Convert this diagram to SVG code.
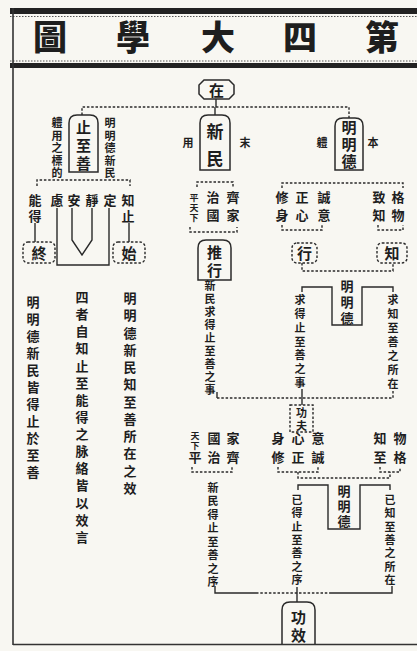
<svg xmlns="http://www.w3.org/2000/svg" width="417" height="651" viewBox="0 0 417 651">
<style>
text{font-family:"Noto Sans CJK TC","Noto Sans CJK SC",sans-serif;font-weight:bold;fill:#1e1e1e;text-anchor:middle}
.t{font-size:34px;font-weight:900}
.b{font-size:15px}
.m{font-size:13px}
.s{font-size:11px}
.xs{font-size:9px}
.ln{fill:none;stroke:#2a2a2a;stroke-width:1.4}
.d{fill:none;stroke:#2a2a2a;stroke-width:1.4;stroke-dasharray:2.5 1.8}
.bx{fill:none;stroke:#2a2a2a;stroke-width:1.5}
.bd{fill:none;stroke:#2a2a2a;stroke-width:1.4;stroke-dasharray:2.5 1.8}
</style>
<rect width="417" height="651" fill="#f8f7f2"/>
<g id="frame">
<rect x="10" y="8" width="407" height="6" fill="#222"/>
<line x1="10" y1="16.5" x2="417" y2="16.5" stroke="#555" stroke-width="1" stroke-dasharray="1.5 1.5"/>
<line x1="10" y1="61" x2="417" y2="61" stroke="#555" stroke-width="1" stroke-dasharray="1.5 1.5"/>
<rect x="10" y="63" width="407" height="5" fill="#222"/>
<line x1="13" y1="8" x2="13" y2="645" stroke="#333" stroke-width="1.6"/>
<line x1="13" y1="644.5" x2="417" y2="644.5" stroke="#333" stroke-width="1.6"/>
</g>
<g id="title">
<text class="t" x="50" y="50">圖</text>
<text class="t" x="133" y="50">學</text>
<text class="t" x="218" y="50">大</text>
<text class="t" x="300" y="50">四</text>
<text class="t" x="382" y="50">第</text>
</g>
<g id="connectors">
<path class="ln" d="M216,99 V107"/>
<path class="d" d="M82,115 V107 H349 V118"/>
<path class="ln" d="M215,107 V115"/>
<path class="d" d="M37,186 V180 H130 V186"/>
<path class="ln" d="M35,223 V242"/>
<path class="ln" d="M129,223 V242"/>
<path class="ln" d="M57,208 V265 H109 V208"/>
<path class="ln" d="M72,208 V240 L82,255 L92,240 V208"/>
<path class="d" d="M197,187 V182 H233 V187"/>
<path class="d" d="M190,227 V232 H237 V227"/>
<path class="d" d="M282,188 V183 H403 V188"/>
<path class="d" d="M282,225 V230 H322 V225"/>
<path class="d" d="M378,225 V230 H403 V225"/>
<path class="d" d="M302,263 V271 H393 V263"/>
<path class="ln" d="M302,292 V287 H332 V325 H362 V287 H393 V292"/>
<path class="ln" d="M217,392 V398"/>
<path class="d" d="M217,398 H393 V390"/>
<path class="ln" d="M302,389 V405"/>
<path class="d" d="M192,467 V472 H232 V467"/>
<path class="d" d="M278,467 V472 H318 V467"/>
<path class="d" d="M380,467 V472 H400 V467"/>
<path class="d" d="M298,472 V478 H390 V472"/>
<path class="ln" d="M298,490 V485 H328 V529 H360 V485 H390 V490"/>
<path class="ln" d="M215,586 V593 H256"/>
<path class="d" d="M256,593 H330"/>
<path class="ln" d="M330,593 H392 V586"/>
<path class="ln" d="M297,587 V602"/>
</g>
<g id="node-zai">
<path class="bx" d="M204,80 H229 L234,85 V94 L229,99 H204 L199,94 V85 Z"/>
<text class="b" x="216.5" y="95.5">在</text>
</g>
<g id="node-zhizhishan">
<path class="bx" d="M69,172 V123 Q69,115 77,115 H90 Q98,115 98,123 V172 Z"/>
<text class="b" x="83.5" y="133">止</text>
<text class="b" x="83.5" y="151">至</text>
<text class="b" x="83.5" y="169">善</text>
</g>
<g id="node-xinmin">
<path class="bx" d="M200,170 V123 Q200,115 208,115 H222 Q230,115 230,123 V170 Z"/>
<text class="b" x="215" y="138" style="font-size:17px">新</text>
<text class="b" x="215" y="165" style="font-size:17px">民</text>
<text class="s" x="188" y="147">用</text>
<text class="s" x="245" y="147">末</text>
</g>
<g id="node-mingmingde">
<path class="bx" d="M335,170 V126 Q335,118 343,118 H355 Q363,118 363,126 V170 Z"/>
<text class="b" x="349" y="133">明</text>
<text class="b" x="349" y="150">明</text>
<text class="b" x="349" y="167">德</text>
<text class="s" x="322" y="147">軆</text>
<text class="s" x="373" y="147">本</text>
</g>
<g id="labels-zhishan">
<text class="s"><tspan x="110" y="127">明</tspan><tspan x="110" y="139.5">明</tspan><tspan x="110" y="152">德</tspan><tspan x="110" y="164.5">新</tspan><tspan x="110" y="177">民</tspan></text>
<text class="s"><tspan x="57" y="127">軆</tspan><tspan x="57" y="139.5">用</tspan><tspan x="57" y="152">之</tspan><tspan x="57" y="164.5">標</tspan><tspan x="57" y="177">的</tspan></text>
<text class="m"><tspan x="35" y="205">能</tspan><tspan x="35" y="221">得</tspan></text>
<text class="m" x="57" y="205">慮</text>
<text class="m" x="74" y="205">安</text>
<text class="m" x="92" y="205">靜</text>
<text class="m" x="110" y="205">定</text>
<text class="m"><tspan x="128" y="205">知</tspan><tspan x="128" y="221">止</tspan></text>
</g>
<g id="node-zhong">
<rect class="bd" x="23" y="242" width="32" height="21" rx="5"/>
<text class="b" x="39" y="258.5">終</text>
</g>
<g id="node-shi">
<rect class="bd" x="113" y="242" width="32" height="21" rx="5"/>
<text class="b" x="129" y="258.5">始</text>
</g>
<g id="cols-left">
<text class="m"><tspan x="33" y="307">明</tspan><tspan x="33" y="324">明</tspan><tspan x="33" y="341">德</tspan><tspan x="33" y="358">新</tspan><tspan x="33" y="375">民</tspan><tspan x="33" y="392">皆</tspan><tspan x="33" y="409">得</tspan><tspan x="33" y="426">止</tspan><tspan x="33" y="443">於</tspan><tspan x="33" y="460">至</tspan><tspan x="33" y="477">善</tspan></text>
<text class="m"><tspan x="82" y="302">四</tspan><tspan x="82" y="319">者</tspan><tspan x="82" y="336">自</tspan><tspan x="82" y="353">知</tspan><tspan x="82" y="371">止</tspan><tspan x="82" y="388">至</tspan><tspan x="82" y="405">能</tspan><tspan x="82" y="422">得</tspan><tspan x="82" y="439">之</tspan><tspan x="82" y="456">脉</tspan><tspan x="82" y="473">絡</tspan><tspan x="82" y="490">皆</tspan><tspan x="82" y="508">以</tspan><tspan x="82" y="525">效</tspan><tspan x="82" y="542">言</tspan></text>
<text class="m"><tspan x="130" y="303">明</tspan><tspan x="130" y="320">明</tspan><tspan x="130" y="338">德</tspan><tspan x="130" y="355">新</tspan><tspan x="130" y="372">民</tspan><tspan x="130" y="389">知</tspan><tspan x="130" y="407">至</tspan><tspan x="130" y="424">善</tspan><tspan x="130" y="441">所</tspan><tspan x="130" y="458">在</tspan><tspan x="130" y="476">之</tspan><tspan x="130" y="493">效</tspan></text>
</g>
<g id="labels-xinmin">
<text class="m"><tspan x="233" y="202">齊</tspan><tspan x="233" y="220">家</tspan></text>
<text class="m"><tspan x="213" y="202">治</tspan><tspan x="213" y="220">國</tspan></text>
<text class="xs"><tspan x="194" y="201">平</tspan><tspan x="194" y="211">天</tspan><tspan x="194" y="221">下</tspan></text>
</g>
<g id="node-tuixing">
<path class="bx" d="M198,280 V248 Q198,240 206,240 H223 Q231,240 231,248 V280 Z"/>
<text class="b" x="214.5" y="257.5">推</text>
<text class="b" x="214.5" y="275.5">行</text>
</g>
<g id="labels-mingde">
<text class="m"><tspan x="282" y="202">修</tspan><tspan x="282" y="220">身</tspan></text>
<text class="m"><tspan x="302" y="202">正</tspan><tspan x="302" y="220">心</tspan></text>
<text class="m"><tspan x="324" y="202">誠</tspan><tspan x="324" y="220">意</tspan></text>
<text class="m"><tspan x="379" y="202">致</tspan><tspan x="379" y="220">知</tspan></text>
<text class="m"><tspan x="398" y="202">格</tspan><tspan x="398" y="220">物</tspan></text>
</g>
<g id="node-xing">
<rect class="bd" x="292" y="243" width="25" height="20" rx="5"/>
<text class="b" x="304.5" y="258.5">行</text>
</g>
<g id="node-zhi">
<rect class="bd" x="377" y="243" width="30" height="20" rx="5"/>
<text class="b" x="392" y="258.5">知</text>
</g>
<g id="node-mingmingde-2">
<text class="m"><tspan x="347" y="291">明</tspan><tspan x="347" y="307">明</tspan><tspan x="347" y="323">德</tspan></text>
</g>
<g id="cols-mid">
<text class="s"><tspan x="210" y="290">新</tspan><tspan x="210" y="303">民</tspan><tspan x="210" y="316">求</tspan><tspan x="210" y="329">得</tspan><tspan x="210" y="342">止</tspan><tspan x="210" y="355">至</tspan><tspan x="210" y="368">善</tspan><tspan x="210" y="381">之</tspan><tspan x="210" y="394">事</tspan></text>
<text class="s"><tspan x="300" y="304">求</tspan><tspan x="300" y="318">得</tspan><tspan x="300" y="332">止</tspan><tspan x="300" y="346">至</tspan><tspan x="300" y="359">善</tspan><tspan x="300" y="373">之</tspan><tspan x="300" y="387">事</tspan></text>
<text class="s"><tspan x="393" y="304">求</tspan><tspan x="393" y="318">知</tspan><tspan x="393" y="332">至</tspan><tspan x="393" y="346">善</tspan><tspan x="393" y="360">之</tspan><tspan x="393" y="374">所</tspan><tspan x="393" y="388">在</tspan></text>
</g>
<g id="node-gongfu">
<rect class="bd" x="290" y="405" width="23" height="27"/>
<text class="s" x="301.5" y="417">功</text>
<text class="s" x="301.5" y="429.5">夫</text>
</g>
<g id="labels-effects">
<text class="m"><tspan x="233" y="443">家</tspan><tspan x="233" y="462">齊</tspan></text>
<text class="m"><tspan x="214" y="443">國</tspan><tspan x="214" y="462">治</tspan></text>
<text class="xs"><tspan x="195" y="439">天</tspan><tspan x="195" y="449">下</tspan></text>
<text class="m" x="195" y="462">平</text>
<text class="m"><tspan x="278" y="443">身</tspan><tspan x="278" y="462">修</tspan></text>
<text class="m"><tspan x="298" y="443">心</tspan><tspan x="298" y="462">正</tspan></text>
<text class="m"><tspan x="318" y="443">意</tspan><tspan x="318" y="462">誠</tspan></text>
<text class="m"><tspan x="380" y="443">知</tspan><tspan x="380" y="462">至</tspan></text>
<text class="m"><tspan x="400" y="443">物</tspan><tspan x="400" y="462">格</tspan></text>
</g>
<g id="node-mingmingde-3">
<text class="m"><tspan x="344" y="496">明</tspan><tspan x="344" y="511">明</tspan><tspan x="344" y="526">德</tspan></text>
</g>
<g id="cols-bottom">
<text class="s"><tspan x="213" y="492">新</tspan><tspan x="213" y="505">民</tspan><tspan x="213" y="519">得</tspan><tspan x="213" y="532">止</tspan><tspan x="213" y="546">至</tspan><tspan x="213" y="559">善</tspan><tspan x="213" y="573">之</tspan><tspan x="213" y="586">序</tspan></text>
<text class="s"><tspan x="297" y="504">已</tspan><tspan x="297" y="517">得</tspan><tspan x="297" y="531">止</tspan><tspan x="297" y="544">至</tspan><tspan x="297" y="557">善</tspan><tspan x="297" y="571">之</tspan><tspan x="297" y="584">序</tspan></text>
<text class="s"><tspan x="390" y="504">已</tspan><tspan x="390" y="517">知</tspan><tspan x="390" y="531">至</tspan><tspan x="390" y="544">善</tspan><tspan x="390" y="557">之</tspan><tspan x="390" y="571">所</tspan><tspan x="390" y="584">在</tspan></text>
</g>
<g id="node-gongxiao">
<path class="bx" d="M282,644 V610 Q282,602 290,602 H307 Q315,602 315,610 V644"/>
<text class="b" x="298.5" y="622.5">功</text>
<text class="b" x="298.5" y="641">效</text>
</g>
</svg>
